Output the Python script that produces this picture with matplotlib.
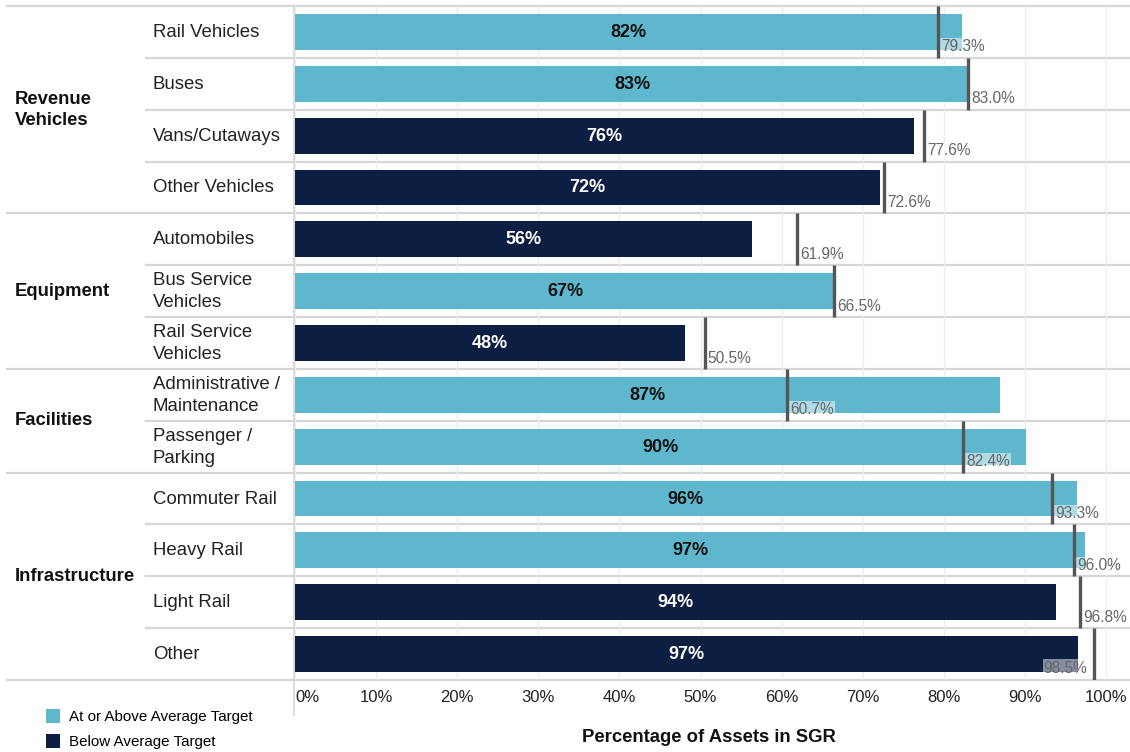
import matplotlib
matplotlib.use("Agg")
import matplotlib.pyplot as plt
from matplotlib.lines import Line2D
from matplotlib.patches import Patch
from matplotlib.transforms import blended_transform_factory

plt.rcParams['font.family'] = ['Liberation Sans', 'DejaVu Sans']

# data
groups = ['Revenue\nVehicles', 'Equipment', 'Facilities', 'Infrastructure']
group_sizes = [4, 3, 2, 4]
categories = ['Rail Vehicles', 'Buses', 'Vans/Cutaways', 'Other Vehicles',
              'Automobiles', 'Bus Service\nVehicles', 'Rail Service\nVehicles',
              'Administrative /\nMaintenance', 'Passenger /\nParking',
              'Commuter Rail', 'Heavy Rail', 'Light Rail', 'Other']
sgr_pct = [82.2, 83.2, 76.3, 72.1, 56.3, 66.6, 48.1, 86.9, 90.1, 96.4, 97.4, 93.8, 96.6]
target_pct = [79.3, 83.0, 77.6, 72.6, 61.9, 66.5, 50.5, 60.7, 82.4, 93.3, 96.0, 96.8, 98.5]
xticks = [0, 10, 20, 30, 40, 50, 60, 70, 80, 90, 100]
legend_labels = ['At or Above Average Target', 'Below Average Target']

LIGHT = '#5fb7cd'
DARK = '#0c1e42'
W, H = 1130, 752

fig = plt.figure(figsize=(W / 100, H / 100), dpi=100)
top_px, bot_px, left_px = 6, 680, 295
ax = fig.add_axes([left_px / W, 1 - bot_px / H, (W - left_px) / W, (bot_px - top_px) / H])

n = len(categories)
ax.set_ylim(n - 0.5, -0.5)
ax.set_xlim(0, (W - left_px) / 8.11)

for i in range(n):
    v, t = sgr_pct[i], target_pct[i]
    above = v >= t
    ax.barh(i, v, height=0.69, color=LIGHT if above else DARK, zorder=2)
    ax.text(v / 2, i + 0.01, f"{v:.0f}%", ha='center', va='center', fontsize=13,
            fontweight='bold', color='#111111' if above else 'white', zorder=4)
    ax.vlines(t, i - 0.5, i + 0.5, color='#555555', lw=2.4, zorder=5)
    box = dict(facecolor='white', alpha=0.5, edgecolor='none', pad=0.8)
    if t > 98:
        ax.text(t - 0.8, i + 0.27, f"{t:.1f}%", ha='right', va='center',
                fontsize=11.2, color='#666666', bbox=box, zorder=4)
    else:
        ax.text(t + 0.4, i + 0.29, f"{t:.1f}%", ha='left', va='center',
                fontsize=11.2, color='#666666', bbox=box, zorder=4)

# axes styling
ax.set_xticks(xticks)
ax.set_xticklabels([f"{x}%" for x in xticks], fontsize=12, color='#222222')
ax.get_xticklabels()[0].set_horizontalalignment('left')
ax.tick_params(axis='x', length=0, pad=7)
ax.set_yticks([])
ax.grid(axis='x', color='#ececec', lw=1, zorder=0)
for s in ['top', 'right', 'bottom', 'left']:
    ax.spines[s].set_visible(False)

# row and group separators, extended into the label area
tr = blended_transform_factory(fig.transFigure, ax.transData)
starts = set([0])
acc = 0
for g in group_sizes:
    acc += g
    starts.add(acc)
for b in range(n + 1):
    x0 = 7 / W if b in starts else 146 / W
    ax.add_line(Line2D([x0, 1], [b - 0.5, b - 0.5], transform=tr, color='#d6d6d6',
                       lw=1.6, clip_on=False, zorder=1))

# left axis line
fig.add_artist(Line2D([294 / W, 294 / W], [1 - top_px / H, 1 - 715 / H],
                      transform=fig.transFigure, color='#d6d6d6', lw=1.2))

# category labels
for i, c in enumerate(categories):
    ax.text(153 / W, i + 0.01, c, transform=tr, ha='left', va='center', fontsize=13.4,
            color='#222222', linespacing=1.38)

# group labels
acc = 0
for g, size in zip(groups, group_sizes):
    ax.text(15 / W, acc + (size - 1) / 2, g, transform=tr, ha='left', va='center',
            fontsize=13.3, fontweight='bold', color='#111111', linespacing=1.3)
    acc += size

# x title
fig.text((left_px + (W - left_px) / 2 - 4) / W, 1 - 737 / H, 'Percentage of Assets in SGR',
         ha='center', va='center', fontsize=13.3, fontweight='bold', color='#111111')

# legend
handles = [Patch(facecolor=LIGHT), Patch(facecolor=DARK)]
fig.legend(handles, legend_labels, loc='upper left', bbox_to_anchor=(43 / W, 1 - 706 / H),
           frameon=False, fontsize=10.9, handlelength=0.95, handleheight=1.05,
           handletextpad=0.55, labelspacing=0.62, borderaxespad=0, borderpad=0.2)

fig.savefig('out.png', dpi=100)
